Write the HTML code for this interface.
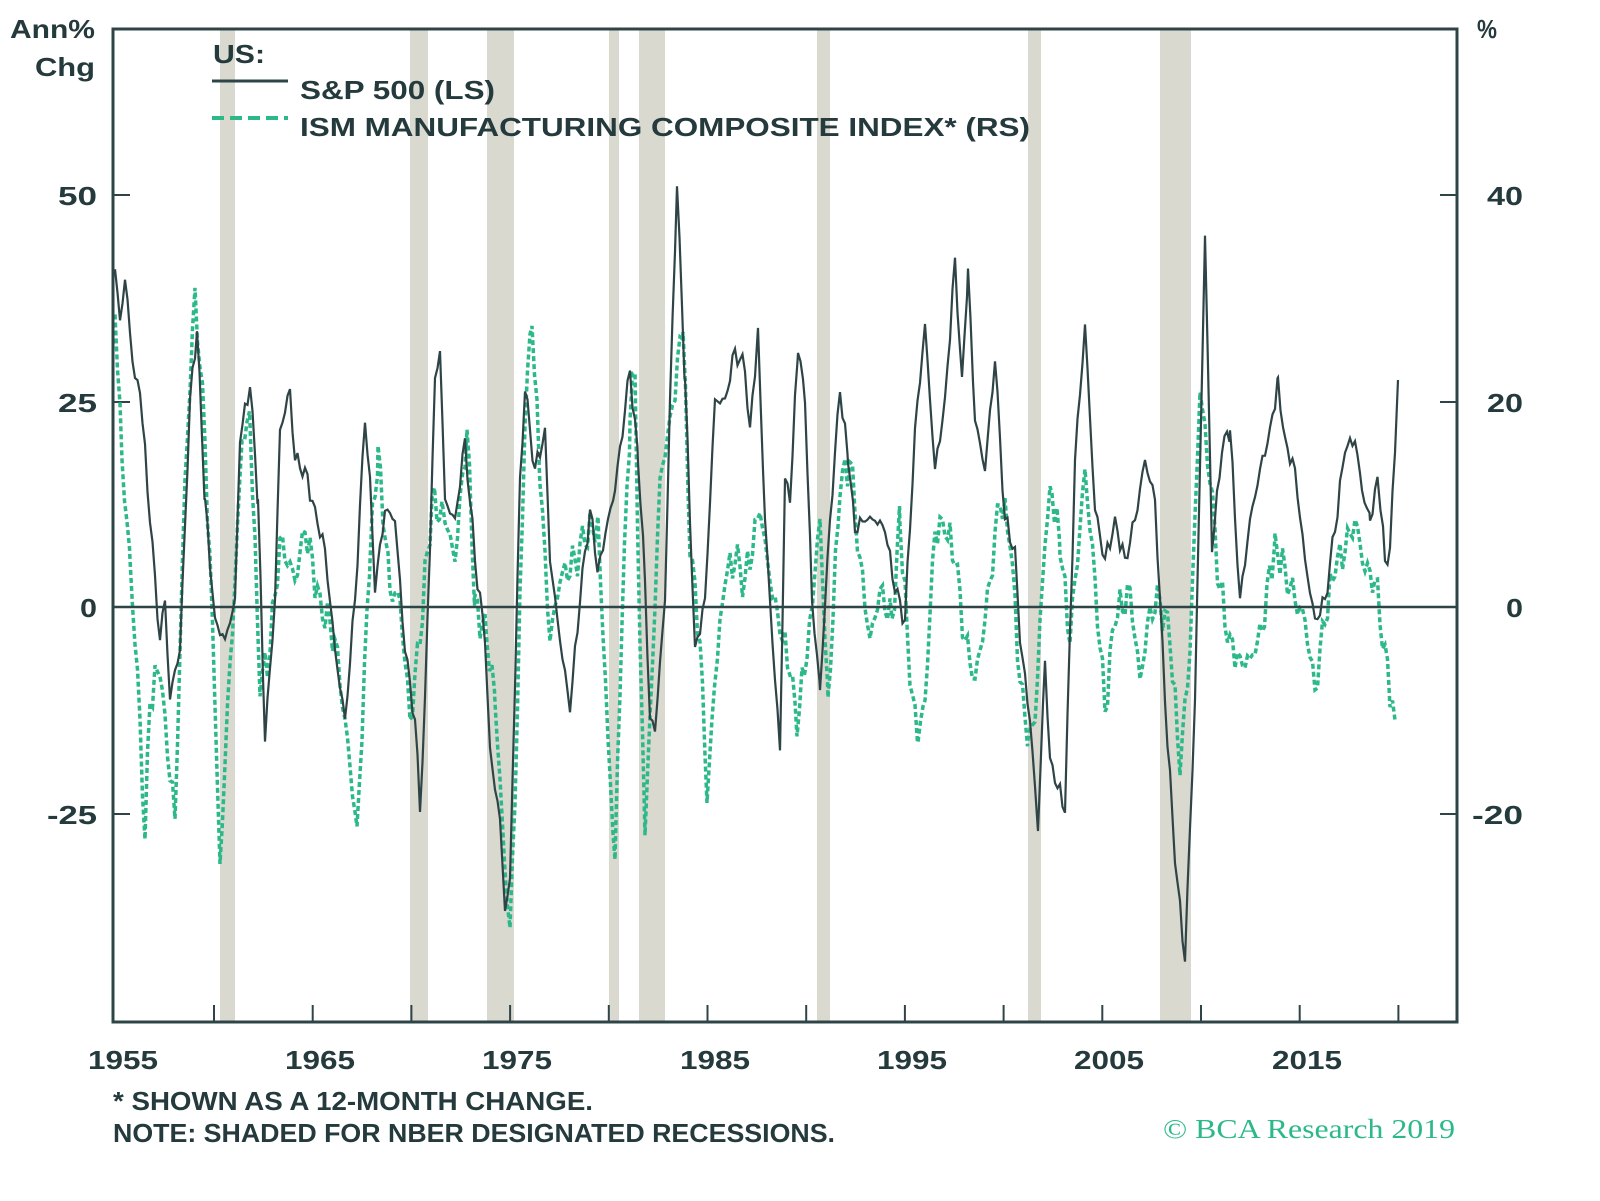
<!DOCTYPE html>
<html><head><meta charset="utf-8"><style>
body{margin:0;background:#fff;}
svg text{font-family:"Liberation Sans",sans-serif;font-weight:bold;fill:#243a3c;}
</style></head><body>
<svg id="s" width="1600" height="1196" viewBox="0 0 1600 1196" xmlns="http://www.w3.org/2000/svg">
<rect width="1600" height="1196" fill="#fff"/>
<g fill="#d9d9d0">
<rect x="220" y="30" width="15" height="992"/>
<rect x="410" y="30" width="18" height="992"/>
<rect x="487" y="30" width="27" height="992"/>
<rect x="609" y="30" width="10" height="992"/>
<rect x="639" y="30" width="26" height="992"/>
<rect x="817" y="30" width="13" height="992"/>
<rect x="1028" y="30" width="13" height="992"/>
<rect x="1160" y="30" width="31" height="992"/>
</g>
<g stroke="#2f4446" stroke-width="2">
<line x1="113" y1="195" x2="130" y2="195"/><line x1="113" y1="402" x2="130" y2="402"/><line x1="113" y1="814" x2="130" y2="814"/>
<line x1="1440" y1="195" x2="1457" y2="195"/><line x1="1440" y1="402" x2="1457" y2="402"/><line x1="1440" y1="814" x2="1457" y2="814"/>
</g>
<g id="xt" stroke="#2f4446" stroke-width="2"></g>
<path id="ism" fill="none" stroke="#2db88a" stroke-width="3.5" stroke-dasharray="5,3"/>
<path id="sp" fill="none" stroke="#2f4446" stroke-width="2.2"/>
<line x1="113" y1="607" x2="1457" y2="607" stroke="#2f4446" stroke-width="2.5"/>
<rect x="113" y="29" width="1344" height="993" fill="none" stroke="#2f4446" stroke-width="3"/>
<g font-size="26" lengthAdjust="spacingAndGlyphs">
<text x="10" y="38" textLength="85" lengthAdjust="spacingAndGlyphs">Ann%</text>
<text x="35" y="76" textLength="60" lengthAdjust="spacingAndGlyphs">Chg</text>
<text x="1477" y="38" textLength="20" lengthAdjust="spacingAndGlyphs">%</text>
<text x="58" y="205" textLength="39" lengthAdjust="spacingAndGlyphs">50</text>
<text x="58" y="412" textLength="39" lengthAdjust="spacingAndGlyphs">25</text>
<text x="80" y="617" textLength="17" lengthAdjust="spacingAndGlyphs">0</text>
<text x="47" y="824" textLength="50" lengthAdjust="spacingAndGlyphs">-25</text>
<text x="1487" y="205" textLength="36" lengthAdjust="spacingAndGlyphs">40</text>
<text x="1487" y="412" textLength="36" lengthAdjust="spacingAndGlyphs">20</text>
<text x="1506" y="617" textLength="17" lengthAdjust="spacingAndGlyphs">0</text>
<text x="1472" y="824" textLength="51" lengthAdjust="spacingAndGlyphs">-20</text>
<text x="88" y="1069" textLength="70" lengthAdjust="spacingAndGlyphs">1955</text>
<text x="285" y="1069" textLength="70" lengthAdjust="spacingAndGlyphs">1965</text>
<text x="482" y="1069" textLength="70" lengthAdjust="spacingAndGlyphs">1975</text>
<text x="680" y="1069" textLength="70" lengthAdjust="spacingAndGlyphs">1985</text>
<text x="877" y="1069" textLength="70" lengthAdjust="spacingAndGlyphs">1995</text>
<text x="1074" y="1069" textLength="70" lengthAdjust="spacingAndGlyphs">2005</text>
<text x="1272" y="1069" textLength="70" lengthAdjust="spacingAndGlyphs">2015</text>
<text x="213" y="63" textLength="52" lengthAdjust="spacingAndGlyphs">US:</text>
<text x="300" y="99" textLength="195" lengthAdjust="spacingAndGlyphs">S&amp;P 500 (LS)</text>
<text x="300" y="136" textLength="730" lengthAdjust="spacingAndGlyphs">ISM MANUFACTURING COMPOSITE INDEX* (RS)</text>
<text x="113" y="1110" textLength="480" lengthAdjust="spacingAndGlyphs">* SHOWN AS A 12-MONTH CHANGE.</text>
<text x="113" y="1142" textLength="722" lengthAdjust="spacingAndGlyphs">NOTE: SHADED FOR NBER DESIGNATED RECESSIONS.</text>
</g>
<line x1="212" y1="81" x2="288" y2="81" stroke="#2f4446" stroke-width="3"/>
<line x1="212" y1="118" x2="288" y2="118" stroke="#2db88a" stroke-width="4" stroke-dasharray="12,6"/>
<text x="1163" y="1138" font-size="27" textLength="292" lengthAdjust="spacingAndGlyphs" style="font-family:'Liberation Serif',serif;font-weight:normal;fill:#2db88a">© BCA Research 2019</text>
</svg>
<script>
var xt=document.getElementById('xt'),h='';
for(var x=214;x<1420;x+=98.7){h+='<line x1="'+x.toFixed(1)+'" y1="1005" x2="'+x.toFixed(1)+'" y2="1022"/>';}
xt.innerHTML=h;
function build(pts,amp,seed){
 var d='',first=true,k=seed;
 for(var i=0;i<pts.length-2;i+=2){
  var x0=pts[i],y0=pts[i+1],x1=pts[i+2],y1=pts[i+3];
  for(var x=x0;x<x1;x+=2.5){
   var t=(x-x0)/(x1-x0),y=y0+(y1-y0)*t;
   k++;y+=amp*(Math.sin(k*1.7)+0.6*Math.sin(k*4.3+seed))*(t>0.05&&t<0.95?1:0.3);
   d+=(first?'M':'L')+x.toFixed(1)+','+y.toFixed(1);first=false;
  }
 }
 d+='L'+pts[pts.length-2]+','+pts[pts.length-1];
 return d;
}
var sp=[115,270,120,320,125,280,135,380,140,390,150,520,160,640,165,600,170,700,175,670,180,650,190,400,197,330,205,500,215,620,225,640,235,600,240,440,250,385,258,500,265,740,275,600,280,430,290,390,295,460,305,470,315,510,325,550,335,650,345,720,355,600,365,420,370,480,375,590,385,510,395,520,405,650,415,720,420,810,425,700,435,380,440,350,445,500,455,520,465,440,475,560,485,640,490,750,500,820,505,910,510,880,520,480,525,390,535,470,545,430,550,560,560,640,570,710,580,600,590,510,598,570,608,520,615,490,625,410,630,370,638,460,645,580,650,720,655,730,665,600,670,400,677,185,685,380,695,650,705,600,715,400,725,400,735,350,745,370,750,430,758,330,765,520,775,680,780,750,785,480,790,500,798,350,805,400,812,600,820,690,830,520,840,390,848,460,855,530,865,520,875,520,885,530,895,590,905,620,915,430,925,325,935,470,945,400,955,260,962,380,968,270,975,420,985,470,995,360,1005,520,1015,550,1020,640,1030,720,1038,830,1045,660,1050,760,1055,780,1065,810,1075,460,1085,325,1095,510,1105,560,1115,520,1125,560,1135,520,1145,460,1155,500,1165,700,1175,860,1185,960,1195,700,1205,235,1212,550,1222,450,1230,430,1240,600,1250,520,1260,470,1270,430,1278,380,1285,440,1295,470,1305,560,1315,620,1325,600,1335,530,1345,450,1355,440,1362,490,1370,520,1378,480,1385,560,1390,550,1398,380];
var ism=[115,310,122,460,130,560,140,720,145,840,150,700,160,670,165,720,175,820,185,480,195,290,205,440,215,700,220,870,225,760,235,580,242,440,250,420,260,690,270,650,280,540,295,580,305,530,320,600,335,640,345,720,357,830,370,560,378,450,390,590,400,600,410,720,420,640,432,500,445,520,455,560,467,430,475,600,487,640,495,700,505,870,510,930,515,800,525,420,532,320,540,480,550,640,560,580,575,560,585,540,598,520,608,740,615,860,622,620,630,420,635,370,640,650,645,830,650,720,660,480,670,420,683,330,690,550,700,640,707,800,715,680,725,580,735,560,745,580,760,510,770,580,780,630,790,670,797,730,810,620,820,520,828,700,840,490,850,460,860,560,870,640,880,590,892,620,900,520,910,680,918,740,925,700,935,530,945,530,955,560,965,640,975,680,985,620,1000,500,1010,540,1020,680,1028,740,1035,720,1045,540,1052,490,1060,550,1070,640,1085,470,1095,580,1105,710,1115,620,1130,590,1140,680,1150,610,1160,600,1170,640,1180,770,1190,650,1200,390,1210,480,1220,590,1230,640,1240,660,1250,660,1262,630,1275,540,1285,570,1295,600,1305,620,1315,690,1325,620,1335,570,1345,550,1355,520,1365,570,1375,580,1385,650,1395,720];
document.getElementById('sp').setAttribute('d',build(sp,7,1));
document.getElementById('ism').setAttribute('d',build(ism,14,3));
</script>
</body></html>
